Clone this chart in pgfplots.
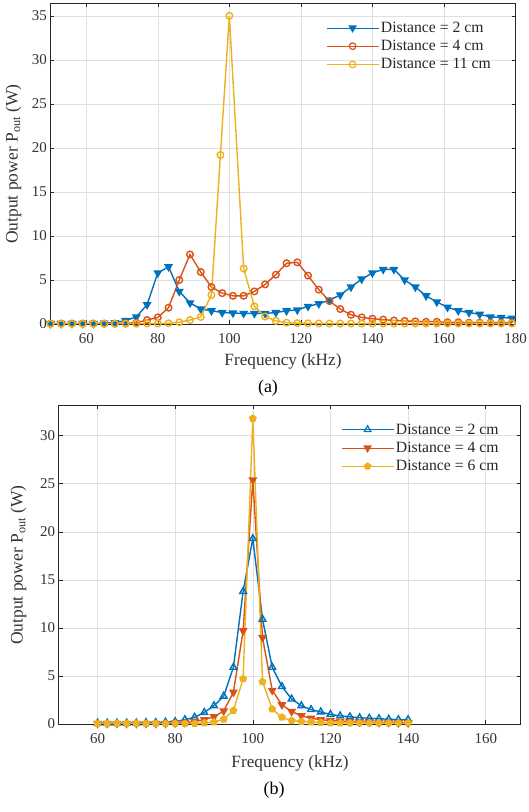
\documentclass[border=0pt]{standalone}
\usepackage{fontspec}
\setmainfont{Liberation Serif}
\usepackage{pgfplots}
\pgfplotsset{compat=1.18}
\definecolor{mblue}{rgb}{0,0.447,0.741}
\definecolor{morange}{rgb}{0.85,0.325,0.098}
\definecolor{myellow}{rgb}{0.929,0.694,0.125}
\pgfplotsset{
  mystyle/.style={
    scale only axis,
    /pgf/number format/assume math mode=true,
    axis line style={black!85, line width=0.7pt},
    tick align=inside,
    major tick length=4pt,
    tick style={black!85, line width=0.6pt},
    grid=major,
    major grid style={color=black!12, line width=0.6pt},
    ticklabel style={font=\fontsize{15}{18}\selectfont, text=black!80},
    xticklabel style={yshift=-6pt},
    ymin=0,
    legend cell align=left,
    legend image code/.code={\draw[##1, mark=none, line width=0.8pt] (0pt,0pt) -- (52pt,0pt);
      \draw[##1, line width=1.2pt] plot coordinates {(26pt,0pt)};},
    legend style={draw=none, fill=none, anchor=north west, row sep=2.4pt,
      font=\fontsize{15.7}{18}\selectfont, text=black!85},
  },
  every axis plot/.append style={line width=1.4pt, mark options={solid}},
}
\pgfplotstableread{
x y
50 0.05
53 0.05
56 0.05
59 0.05
62 0.06
65 0.1
68 0.15
71 0.4
74 0.8
77 2.2
80 5.8
83 6.5
86 3.7
89 2.4
92 1.7
95 1.5
98 1.3
101 1.25
104 1.2
107 1.2
110 1.2
113 1.3
116 1.5
119 1.6
122 2.0
125 2.3
128 2.7
131 3.3
134 4.2
137 5.1
140 5.8
143 6.2
146 6.2
149 5.0
152 4.2
155 3.2
158 2.5
161 1.9
164 1.5
167 1.3
170 1.1
173 0.8
176 0.75
179 0.65
}\tabAblue
\pgfplotstableread{
x y
50 0.05
53 0.05
56 0.05
59 0.05
62 0.05
65 0.05
68 0.05
71 0.08
74 0.15
77 0.45
80 0.75
83 1.85
86 5.0
89 7.9
92 5.9
95 4.2
98 3.5
101 3.2
104 3.2
107 3.7
110 4.5
113 5.6
116 6.9
119 7.0
122 5.5
125 3.9
128 2.6
131 1.7
134 1.05
137 0.75
140 0.6
143 0.5
146 0.4
149 0.35
152 0.3
155 0.25
158 0.25
161 0.2
164 0.2
167 0.15
170 0.15
173 0.15
176 0.15
179 0.15
}\tabAorange
\pgfplotstableread{
x y
50 0.02
53 0.02
56 0.02
59 0.02
62 0.02
65 0.02
68 0.02
71 0.02
74 0.03
77 0.05
80 0.05
83 0.08
86 0.2
89 0.45
92 0.8
95 3.3
97.5 19.2
100 35.0
104 6.3
107 2.0
110 0.85
113 0.35
116 0.15
119 0.1
122 0.08
125 0.06
128 0.05
131 0.05
134 0.05
137 0.05
140 0.05
143 0.05
146 0.05
149 0.05
152 0.05
155 0.05
158 0.05
161 0.05
164 0.05
167 0.05
170 0.05
173 0.05
176 0.05
179 0.05
}\tabAyellow
\pgfplotstableread{
x y
60 0.1
62.5 0.1
65 0.1
67.5 0.1
70 0.1
72.5 0.15
75 0.15
77.5 0.2
80 0.25
82.5 0.45
85 0.7
87.5 1.2
90 1.9
92.5 2.9
95 5.9
97.5 13.8
100 19.3
102.5 10.9
105 5.9
107.5 3.9
110 2.6
112.5 1.9
115 1.5
117.5 1.25
120 1.0
122.5 0.85
125 0.75
127.5 0.65
130 0.6
132.5 0.55
135 0.5
137.5 0.45
140 0.45
}\tabBblue
\pgfplotstableread{
x y
60 0.05
62.5 0.05
65 0.05
67.5 0.05
70 0.05
72.5 0.05
75 0.05
77.5 0.05
80 0.1
82.5 0.15
85 0.25
87.5 0.45
90 0.75
92.5 1.35
95 3.3
97.5 9.7
100 25.4
102.5 9.0
105 3.5
107.5 2.0
110 1.3
112.5 0.85
115 0.6
117.5 0.45
120 0.35
122.5 0.3
125 0.25
127.5 0.2
130 0.2
132.5 0.15
135 0.15
137.5 0.12
140 0.1
}\tabBorange
\pgfplotstableread{
x y
60 0.05
62.5 0.05
65 0.05
67.5 0.05
70 0.05
72.5 0.05
75 0.05
77.5 0.05
80 0.05
82.5 0.05
85 0.05
87.5 0.1
90 0.2
92.5 0.5
95 1.4
97.5 4.7
100 31.8
102.5 4.4
105 1.55
107.5 0.7
110 0.35
112.5 0.25
115 0.2
117.5 0.15
120 0.1
122.5 0.1
125 0.1
127.5 0.1
130 0.1
132.5 0.1
135 0.1
137.5 0.1
140 0.1
}\tabByellow
\begin{document}
\begin{tikzpicture}
\useasboundingbox (0,0) rectangle (529pt,812pt);
% ---------- (a) ----------
\begin{axis}[mystyle,
  at={(50.5pt,488pt)}, anchor=south west,
  width=465pt, height=320.5pt,
  xmin=50, xmax=180, ymax=36.4,
  xtick={60,80,...,180}, ytick={0,5,...,35},
  legend style={at={(0.586,0.9555)}},
]
\addplot[color=mblue, mark=triangle*, mark size=3.8pt, mark options={rotate=180, fill=mblue}] table {\tabAblue};
\addlegendentry{Distance = 2 cm}
\addplot[color=morange, mark=o, mark size=3.3pt] table {\tabAorange};
\addlegendentry{Distance = 4 cm}
\addplot[color=myellow, mark=o, mark size=3.3pt] table {\tabAyellow};
\addlegendentry{Distance = 11 cm}
\end{axis}
\node[font=\fontsize{17.2}{20}\selectfont, text=black!80] at (283pt,450.3pt) {Frequency (kHz)};
\node[font=\fontsize{18}{21}\selectfont] at (268pt,424pt) {(a)};
\node[rotate=90, font=\fontsize{17.5}{20}\selectfont, text=black!80] at (13.3pt,648pt) {Output power P\textsubscript{out} (W)};
% ---------- (b) ----------
\begin{axis}[mystyle,
  at={(58.7pt,88pt)}, anchor=south west,
  width=462pt, height=319pt,
  xmin=50, xmax=169, ymax=33.2,
  xtick={60,80,...,160}, ytick={0,5,...,30},
  legend style={at={(0.6045,0.9545)}},
]
\addplot[color=mblue, mark=triangle, mark size=3.9pt] table {\tabBblue};
\addlegendentry{Distance = 2 cm}
\addplot[color=morange, mark=triangle*, mark size=3.8pt, mark options={rotate=180, fill=morange}] table {\tabBorange};
\addlegendentry{Distance = 4 cm}
\addplot[color=myellow, mark=pentagon*, mark size=3.3pt, mark options={fill=myellow}] table {\tabByellow};
\addlegendentry{Distance = 6 cm}
\end{axis}
\node[font=\fontsize{17.2}{20}\selectfont, text=black!80] at (290pt,48.7pt) {Frequency (kHz)};
\node[font=\fontsize{18}{21}\selectfont] at (274pt,22pt) {(b)};
\node[rotate=90, font=\fontsize{17.5}{20}\selectfont, text=black!80] at (18.5pt,247pt) {Output power P\textsubscript{out} (W)};
\end{tikzpicture}
\end{document}
